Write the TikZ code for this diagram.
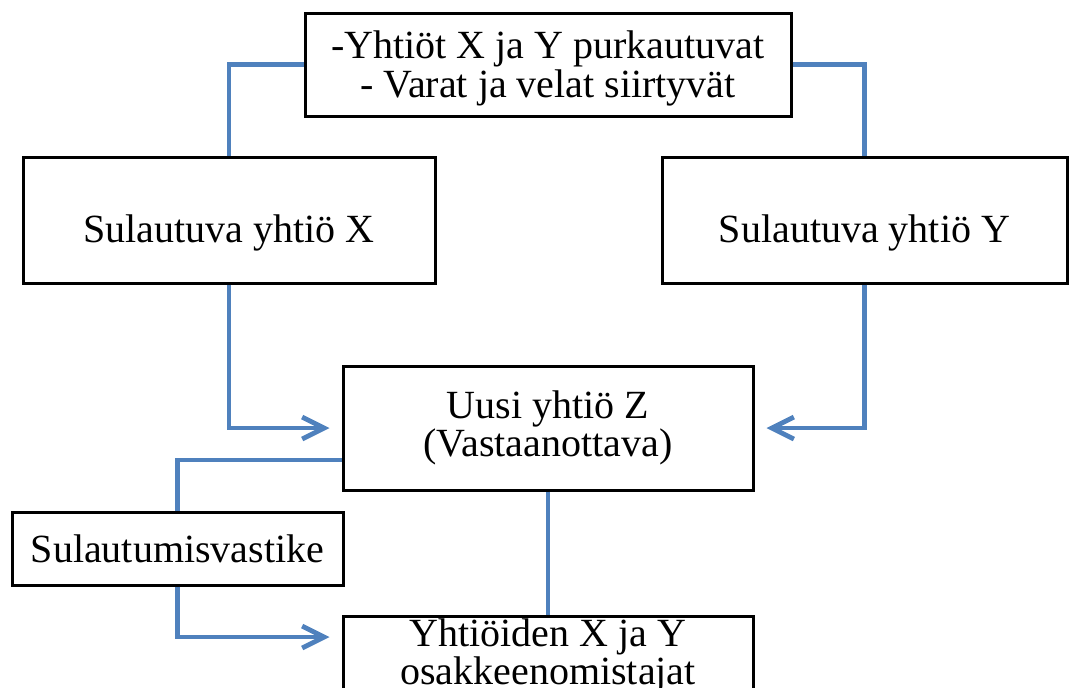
\documentclass[tikz,border=0pt]{standalone}
\usepackage{fontspec}
\setmainfont{Liberation Serif}
\usetikzlibrary{arrows.meta}
\definecolor{linkblue}{RGB}{79,129,189}
\begin{document}
\begin{tikzpicture}[x=0.5pt,y=-0.5pt]
        \tikzstyle{block}=[rectangle,draw=black,line width=1.5pt,fill=white,align=center,inner sep=0pt,font=\fontsize{20}{17.5}\selectfont]
        \tikzstyle{link}=[draw=linkblue,line width=2.4pt]
        \tikzstyle{flow}=[link,shorten >=6pt,-{Straight Barb[length=11pt,width=11pt]}]
        \useasboundingbox (0,0) rectangle (1069,687);
       \begin{scope}
         \node [block,minimum width=243pt,minimum height=51.5pt,text height=36.5pt,text depth=4pt] (dissolve) at (548,64.5) {-Yhtiöt X ja Y purkautuvat\\- Varat ja velat siirtyvät};
         \node [block,minimum width=206pt,minimum height=63pt,text height=26pt,text depth=4pt] (compX) at (229,220) {Sulautuva yhtiö X};
         \node [block,minimum width=202.5pt,minimum height=63pt,text height=26pt,text depth=4pt] (compY) at (864.5,220) {Sulautuva yhtiö Y};
         \node [block,minimum width=205pt,minimum height=62pt] (compZ) at (548,428) {Uusi yhtiö Z\\(Vastaanottava)};
         \node [block,minimum width=165.5pt,minimum height=36.5pt] (consid) at (177.5,548.5) {Sulautumisvastike};
         \node [block,minimum width=205pt,anchor=north,text height=34pt,text depth=30pt] (owners) at (548,615) {Yhtiöiden X ja Y\\osakkeenomistajat};
         \coordinate (zOut) at ([yshift=-16pt]compZ.west);
         \coordinate (ownIn) at ([yshift=-11pt]owners.north west);
         \path[link] (dissolve.west) -| (compX.north);
         \path[link] (dissolve.east) -| (compY.north);
         \path[flow] (compX.south) |- (compZ.west);
         \path[flow] (compY.south) |- (compZ.east);
         \path[link] (zOut) -| (consid.north);
         \path[flow] (consid.south) |- (ownIn);
         \path[link] (compZ.south) -- (owners.north);
        \end{scope}
      \end{tikzpicture}
\end{document}
